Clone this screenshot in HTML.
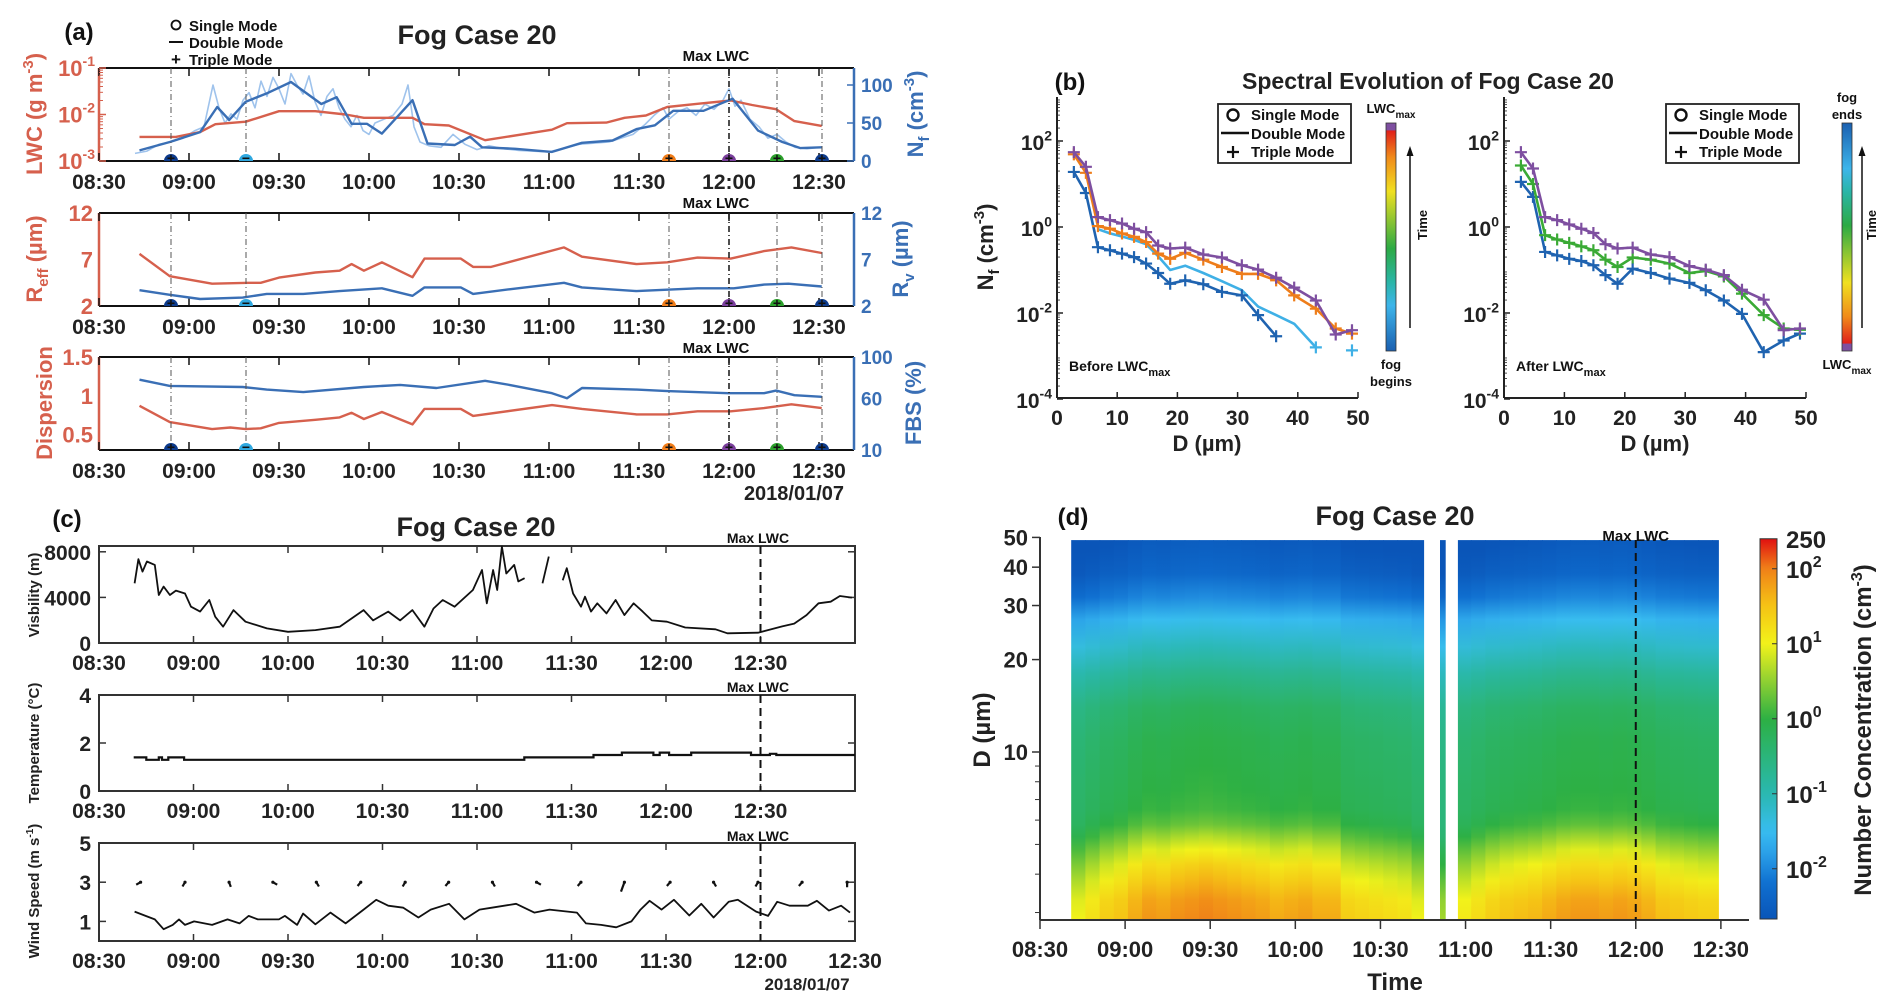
<!DOCTYPE html>
<html><head><meta charset="utf-8">
<style>
html,body{margin:0;padding:0;background:#fff;}
svg{display:block;}
text{font-family:"Liberation Sans",Arial,sans-serif;font-weight:bold;}
</style></head>
<body>
<svg id="fig" width="1892" height="1007" viewBox="0 0 1892 1007" xmlns="http://www.w3.org/2000/svg">
<defs id="defs"></defs>
<rect x="0" y="0" width="1892" height="1007" fill="#fff"/>

<!-- Panel (a) static text -->
<text x="79" y="40" font-size="24" text-anchor="middle" fill="#111">(a)</text>
<text x="477" y="44" font-size="27" text-anchor="middle" fill="#222">Fog Case 20</text>
<g>
<circle cx="176" cy="25" r="4.5" fill="none" stroke="#111" stroke-width="1.8"/>
<text x="189" y="31" font-size="15" fill="#111">Single Mode</text>
<line x1="169" y1="42" x2="183" y2="42" stroke="#111" stroke-width="2"/>
<text x="189" y="48" font-size="15" fill="#111">Double Mode</text>
<text x="176" y="65" font-size="17" text-anchor="middle" fill="#111">+</text>
<text x="189" y="65" font-size="15" fill="#111">Triple Mode</text>
</g>
<text x="716" y="61" font-size="15" text-anchor="middle" fill="#111">Max LWC</text>
<text x="716" y="208" font-size="15" text-anchor="middle" fill="#111">Max LWC</text>
<text x="716" y="353" font-size="15" text-anchor="middle" fill="#111">Max LWC</text>
<text transform="translate(42,114) rotate(-90)" font-size="22" text-anchor="middle" fill="#d6604d">LWC (g m<tspan dy="-9" font-size="15">-3</tspan><tspan dy="9">)</tspan></text>
<text transform="translate(923,114) rotate(-90)" font-size="22" text-anchor="middle" fill="#3a6fb5">N<tspan dy="6" font-size="15">f</tspan><tspan dy="-6"> (cm</tspan><tspan dy="-9" font-size="15">-3</tspan><tspan dy="9">)</tspan></text>
<text transform="translate(42,259) rotate(-90)" font-size="22" text-anchor="middle" fill="#d6604d">R<tspan dy="6" font-size="15">eff</tspan><tspan dy="-6"> (µm)</tspan></text>
<text transform="translate(908,259) rotate(-90)" font-size="22" text-anchor="middle" fill="#3a6fb5">R<tspan dy="6" font-size="15">v</tspan><tspan dy="-6"> (µm)</tspan></text>
<text transform="translate(52,403) rotate(-90)" font-size="22" text-anchor="middle" fill="#d6604d">Dispersion</text>
<text transform="translate(921,403) rotate(-90)" font-size="22" text-anchor="middle" fill="#3a6fb5">FBS (%)</text>
<text x="794" y="500" font-size="20" text-anchor="middle" fill="#222">2018/01/07</text>

<!-- Panel (b) static text -->
<text x="1070" y="90" font-size="24" text-anchor="middle" fill="#111">(b)</text>
<text x="1428" y="89" font-size="23" text-anchor="middle" fill="#222">Spectral Evolution of Fog Case 20</text>
<text transform="translate(993,247) rotate(-90)" font-size="22" text-anchor="middle" fill="#222">N<tspan dy="6" font-size="15">f</tspan><tspan dy="-6"> (cm</tspan><tspan dy="-9" font-size="15">-3</tspan><tspan dy="9">)</tspan></text>
<text x="1207" y="451" font-size="22" text-anchor="middle" fill="#222">D (µm)</text>
<text x="1655" y="451" font-size="22" text-anchor="middle" fill="#222">D (µm)</text>
<text x="1069" y="371" font-size="14" fill="#111">Before LWC<tspan dy="5" font-size="11">max</tspan></text>
<text x="1516" y="371" font-size="14" fill="#111">After LWC<tspan dy="5" font-size="11">max</tspan></text>
<text x="1391" y="113" font-size="13" text-anchor="middle" fill="#111">LWC<tspan dy="5" font-size="10">max</tspan></text>
<text x="1391" y="369" font-size="13" text-anchor="middle" fill="#111">fog</text>
<text x="1391" y="386" font-size="13" text-anchor="middle" fill="#111">begins</text>
<text x="1847" y="102" font-size="13" text-anchor="middle" fill="#111">fog</text>
<text x="1847" y="119" font-size="13" text-anchor="middle" fill="#111">ends</text>
<text x="1847" y="369" font-size="13" text-anchor="middle" fill="#111">LWC<tspan dy="5" font-size="10">max</tspan></text>
<text transform="translate(1427,225) rotate(-90)" font-size="13" text-anchor="middle" fill="#111">Time</text>
<text transform="translate(1876,225) rotate(-90)" font-size="13" text-anchor="middle" fill="#111">Time</text>

<!-- Panel (c) static text -->
<text x="67" y="527" font-size="24" text-anchor="middle" fill="#111">(c)</text>
<text x="476" y="536" font-size="27" text-anchor="middle" fill="#222">Fog Case 20</text>
<text x="758" y="543" font-size="14" text-anchor="middle" fill="#111">Max LWC</text>
<text x="758" y="692" font-size="14" text-anchor="middle" fill="#111">Max LWC</text>
<text x="758" y="841" font-size="14" text-anchor="middle" fill="#111">Max LWC</text>
<text transform="translate(39,595) rotate(-90)" font-size="15" text-anchor="middle" fill="#222">Visbility (m)</text>
<text transform="translate(39,743) rotate(-90)" font-size="15" text-anchor="middle" fill="#222">Temperature (°C)</text>
<text transform="translate(39,891) rotate(-90)" font-size="15" text-anchor="middle" fill="#222">Wind Speed (m s<tspan dy="-6" font-size="10">-1</tspan><tspan dy="6">)</tspan></text>
<text x="807" y="990" font-size="17" text-anchor="middle" fill="#222">2018/01/07</text>

<!-- Panel (d) static text -->
<text x="1073" y="525" font-size="24" text-anchor="middle" fill="#111">(d)</text>
<text x="1395" y="525" font-size="27" text-anchor="middle" fill="#222">Fog Case 20</text>
<text x="1395" y="990" font-size="24" text-anchor="middle" fill="#222">Time</text>
<text transform="translate(990,730) rotate(-90)" font-size="24" text-anchor="middle" fill="#222">D (µm)</text>
<text transform="translate(1871,730) rotate(-90)" font-size="24" text-anchor="middle" fill="#222">Number Concentration (cm<tspan dy="-9" font-size="16">-3</tspan><tspan dy="9">)</tspan></text>
</svg>

<script>
// ---------------- DATA ----------------
// Panel (a)
const aTickLabels=['08:30','09:00','09:30','10:00','10:30','11:00','11:30','12:00','12:30'];
const lwcT=[13.5,25.6,33.7,38.8,48.9,60,72.1,82.2,88.3,104.5,108.5,116.6,128.7,151,156,169.1,175.2,182.3,189.4,199.5,210.6,217.7,225.7,231.8,240.9];
const lwcV=[0.0033,0.0033,0.0042,0.0062,0.007,0.0118,0.0118,0.010,0.0085,0.0085,0.0062,0.0058,0.0028,0.0047,0.0065,0.0067,0.0085,0.0095,0.0145,0.017,0.02,0.016,0.013,0.0072,0.0057];
const nfT=[13.5,23.6,33.7,39.4,43.4,48.9,55.9,64,74.1,79.2,84.2,89.3,94.3,104.5,109.5,118.6,123.7,127.7,138.8,151,161,171.2,179.2,185.3,191.4,201.5,211.2,219.7,227.8,233.8,240.9];
const nfV=[14,25,38,71,54,78,89,104,75,84,49,49,36,80,23,21,32,18,16,12,24,27,42,47,66,66,82,40,25,17,18];
const nfRawT=[12,16,20,24,28,32,35,38,40,42,44,46,48,50,52,54,56,58,60,62,64,66,68,70,72,74,76,78,80,82,84,86,88,90,92,95,98,101,103,105,107,110,114,118,122,126,130,135,140,150,160,170,178,182,185,188,190,193,196,199,202,205,208,210,212,214,217,220,223,226,229,232,236,240];
const nfRawV=[10,13,22,25,30,40,45,100,70,50,62,55,80,90,70,105,85,110,95,75,115,100,88,112,78,60,85,95,70,55,45,60,40,35,50,55,60,75,100,45,25,20,18,35,22,15,20,16,14,12,22,25,35,48,60,70,55,65,70,60,75,68,80,95,72,80,55,45,30,35,25,18,16,18];
const reffT=[13.5,23.6,37.7,49.9,53.9,60,72.1,80.2,84.2,88.3,94.3,104.5,108.5,120.6,124.7,130.7,155,161,179.2,189.4,199.5,210.6,221.7,230.8,240.9];
const reffV=[7.6,5.2,4.4,4.5,4.5,5.05,5.6,5.8,6.5,5.8,6.7,5.1,7.1,7.1,6.2,6.2,8.3,7.3,6.5,6.7,7.2,7.1,7.9,8.3,7.7];
const rvT=[13.5,23.6,33.7,47.9,55.9,68.1,80.2,94.3,104.5,108.5,120.6,124.7,136.8,155,161,179.2,199.5,211.6,221.7,229.8,240.9];
const rvV=[3.7,3.2,2.75,2.9,3.3,3.3,3.6,3.9,3.1,4.0,4.0,3.3,3.8,4.5,4.0,3.6,3.9,3.9,4.3,4.4,4.1];
const dispT=[13.5,23.6,37.7,43.8,48.9,53.9,60,72.1,80.2,84.2,88.3,94.3,104.5,108.5,120.6,124.7,151,161,179.2,189.4,199.5,210.6,221.7,230.8,240.9];
const dispV=[0.87,0.66,0.57,0.59,0.57,0.58,0.65,0.69,0.72,0.78,0.70,0.79,0.63,0.83,0.83,0.74,0.88,0.83,0.76,0.76,0.80,0.80,0.84,0.89,0.84];
const fbsT=[13.5,23.6,47.9,55.9,68.1,88.3,100.4,112.5,128.7,136.8,151,156,161,179.2,189.4,209.6,221.7,225.7,231.8,240.9];
const fbsV=[78,72,71,68.5,66,71,73,70,77,73,65,60,70,68.5,67,65,65,67.5,63,61.5];
const eventT=[24,49,190,210,226,241];
const eventMode=['+','-','+','+','+','+'];
const maxLwcT=210;

// Panel (b)
const bD=[2.8,4.8,6.8,8.8,10.8,12.8,14.8,16.8,18.8,21.3,24.3,27.4,30.7,33.4,36.4,39.4,43,46.3,49];
const bYTicks=[2,0,-2,-4];
const bXTicks=[0,10,20,30,40,50];
const leftPurpleLog=[1.74,1.40,0.23,0.16,0.08,-0.04,-0.12,-0.43,-0.5,-0.48,-0.64,-0.71,-0.89,-0.99,-1.18,-1.41,-1.71,-2.5,-2.4];
const leftOrangeLog=[1.69,1.26,0.02,-0.04,-0.15,-0.23,-0.35,-0.62,-0.74,-0.60,-0.76,-0.93,-1.09,-1.09,-1.24,-1.59,-1.9,-2.36,-2.48];
const leftLightBlueLog=[null,null,-0.05,-0.15,-0.22,-0.3,-0.4,-0.68,-1.0,-0.9,-1.07,-1.26,-1.47,-1.85,-2.05,-2.25,-2.8,null,-2.87];
const leftDarkBlueLog=[1.28,0.79,-0.47,-0.54,-0.62,-0.70,-0.85,-1.07,-1.32,-1.24,-1.33,-1.51,-1.59,-2.05,-2.54,null,null,null,null];
const rightPurpleLog=[1.74,1.36,0.23,0.16,0.06,-0.04,-0.14,-0.4,-0.5,-0.48,-0.64,-0.7,-0.91,-0.99,-1.12,-1.46,-1.69,-2.4,-2.36];
const rightGreenLog=[1.43,1.0,-0.19,-0.29,-0.37,-0.45,-0.54,-0.76,-0.93,-0.71,-0.76,-0.85,-1.07,-1.02,-1.15,-1.55,-2.05,-2.36,-2.39];
const rightDarkBlueLog=[1.05,0.70,-0.58,-0.66,-0.74,-0.79,-0.89,-1.12,-1.32,-0.97,-1.07,-1.2,-1.3,-1.47,-1.71,-2.02,-2.91,-2.64,-2.48];

// Panel (c)
const cLabelsTop=['08:30','09:00','10:00','10:30','11:00','11:30','12:00','12:30'];
const cLabelsBottom=['08:30','09:00','09:30','10:00','10:30','11:00','11:30','12:00','12:30'];
const visT=[11.3,12.5,13.8,15.2,17.7,19,20.5,22.5,24.4,27.3,29.2,32.1,35,36.9,39.4,42.7,46.5,53.3,60,68.7,76.4,84,87,91.8,95.6,99.5,103.3,106.2,109.1,112.9,118.7,121.6,123.1,125.1,126.4,127.9,129.3,131.8,133.1,135.1,138,140.8,142.8,145,147.2,148.5,150.5,153,154.3,156.2,158.2,161.1,164,166.8,169.7,172.6,175.5,180.3,186.1,195.7,199.5,209.2,216.9,220.7,224.6,228.4,232.3,235.2,239];
const visV=[5240,7350,6260,7150,6850,4210,4950,4210,4600,4340,3180,2750,3770,2310,1430,2890,1870,1280,985,1130,1430,2890,1980,2750,1980,2890,1430,3030,3770,3180,4650,6400,3480,6400,4650,8460,6100,6850,5400,5680,null,5240,7580,null,5500,6560,4340,3180,4060,2750,3480,2600,3770,2450,3480,2750,1980,1870,1360,1200,850,900,1460,1700,2450,3480,3620,4120,3980];
const tempT=[11,15,19,20,22,25,27,135,157,166,176,178,181,188,207,210,213,215,240];
const tempV=[1.4,1.3,1.4,1.3,1.4,1.4,1.3,1.4,1.5,1.6,1.5,1.6,1.5,1.6,1.5,1.5,1.55,1.5,1.5];
const windT=[11.3,14.8,17.7,20.5,23.4,25.4,27.3,30.2,35.9,40.8,44.6,47.5,50.4,57.1,59,62.9,64.8,68.7,73.5,78.3,84,88,91.8,96.6,101.4,105.3,111.1,116,120.8,124.7,132.4,138.2,143,151.7,154.6,159.4,164.2,169,171.9,174.8,178.6,182.5,187.4,191.2,195.1,199.9,202.8,208.6,212.4,215.3,219.2,225,227.9,231.7,235.6,238.4];
const windV=[1.5,1.28,1.1,0.6,0.82,1.1,0.82,1.0,0.82,1.1,0.9,1.28,1.1,1.1,1.28,0.82,1.4,0.85,1.45,0.9,1.6,2.1,1.8,1.7,1.2,1.6,1.9,1.1,1.6,1.7,1.9,1.45,1.6,1.45,0.9,0.82,0.7,1.0,1.6,2.05,1.6,2.1,1.3,1.9,1.2,2.0,2.1,1.5,1.28,2.0,1.8,1.8,2.05,1.55,1.8,1.45];
const windDirT=[13.2,27.3,41.3,55.2,69.0,83.1,97.2,111.0,124.9,138.9,153.0,166.8,181.3,195.1,209.2,223.2,237.5];
const windDirDeg=[300,330,20,60,30,320,330,320,30,60,320,340,320,30,330,320,0];

// Panel (d)
const dTickLabels=['08:30','09:00','09:30','10:00','10:30','11:00','11:30','12:00','12:30'];
const dYTicks=[10,20,30,40,50];
const hmD=[2.84,3.3,3.8,4.3,4.8,5.3,5.8,6.5,7.5,9,11,14,18,22,27,32,38,45,49];
const hmBase=[1.5,1.4,1.15,0.9,0.6,0.3,0.05,-0.1,-0.15,-0.2,-0.25,-0.4,-0.8,-1.2,-1.6,-2.1,-2.45,-2.6,-2.65];
const hmWeight=[1,1,1,1,0.9,0.8,0.6,0.45,0.4,0.4,0.4,0.4,0.35,0.3,0.3,0.3,0.3,0.3,0.3];
const hmEdges=[11,16,21,26,31,36,41,46,51,56,61,66,71,76,81,86,91,96,101,106,111,116,121,126,131,135.4,141,143,147.3,152,157,162,167,172,177,182,187,192,197,202,207,212,217,222,227,232,237,239.3];
const hmAnom=[-0.5,-0.3,-0.1,0,0.2,0.35,0.3,0.4,0.45,0.5,0.45,0.4,0.35,0.3,0.2,0.25,0.3,0.2,0.2,-0.1,-0.15,-0.2,-0.25,-0.3,-0.5,null,-0.9,null,-0.4,-0.25,-0.1,0,0.05,0.1,0.2,0.3,0.35,0.35,0.3,0.35,0.3,0.2,0.05,0,-0.05,-0.1,-0.1];
const cbLabels=['10^-2','10^-1','10^0','10^1','10^2'];
const cbLabelLogs=[-2,-1,0,1,2];

// ---------------- HELPERS ----------------
const NS='http://www.w3.org/2000/svg';
const svg=document.getElementById('fig');
const defs=document.getElementById('defs');
function mk(tag,attrs,parent){const e=document.createElementNS(NS,tag);for(const k in attrs)e.setAttribute(k,attrs[k]);(parent||svg).appendChild(e);return e;}
function txt(str,x,y,size,anchor,fill,parent){const e=mk('text',{x:x,y:y,'font-size':size,'text-anchor':anchor,fill:fill},parent);e.textContent=str;return e;}
function pow10(exp,x,y,size,anchor,fill,parent){const e=mk('text',{x:x,y:y,'font-size':size,'text-anchor':anchor,fill:fill},parent);const a=mk('tspan',{},e);a.textContent='10';const b=mk('tspan',{dy:-size*0.45,'font-size':Math.round(size*0.65)},e);b.textContent=exp;return e;}
function pathD(ts,vs,fx,fy){let d='',pen=false;for(let i=0;i<ts.length;i++){if(vs[i]==null||ts[i]==null){pen=false;continue;}d+=(pen?'L':'M')+fx(ts[i]).toFixed(1)+','+fy(vs[i]).toFixed(1);pen=true;}return d;}
function line(x1,y1,x2,y2,stroke,w,parent){return mk('line',{x1:x1,y1:y1,x2:x2,y2:y2,stroke:stroke,'stroke-width':w},parent);}

const RED='#d6604d', RED_L='#f3aaa0', BLUE='#3a6fb5', BLUE_L='#9fc3ec';
const eventColor=['#0d3b8c','#2fa8e0','#f07d1a','#7a3f9c','#2ca02c','#0d3b8c'];

// ---------------- PANEL (a) ----------------
const xA=t=>99+t*3;
const yLWC=v=>161-(Math.log10(v)+3)*46.5;
const yNf=v=>161-v*0.76;
const yR1=v=>306-(v-2)*9.3;
const yDisp=v=>450-(v-0.3)*77.5;
const yFBS=v=>450-(v-10)*93/90;

function aFrame(top,bot,name){
  const g=mk('g',{});
  
  
  const t1=line(99,top,854,top,'#111',2,g);
  
  
  const b1=line(99,bot,854,bot,'#111',2,g);
  
  
  const l1=line(99,top,99,bot,RED,2.5,g);
  
  
  const r1=line(854,top,854,bot,BLUE,2.5,g);
  
  
  for(let i=0;i<aTickLabels.length;i++){
    const x=xA(i*30);
    const tk=line(x,top,x,top+8,'#111',1.5,g);
    
    
    const tb=line(x,bot,x,bot-8,'#111',1.5,g);
    
    
    const lb=txt(aTickLabels[i],x,bot+28,21,'middle','#222',g);
    
    
  }
  return g;
}
function eventLines(top,bot,name){
  for(let i=0;i<eventT.length;i++){
    const x=xA(eventT[i]);
    const isMax=eventT[i]===maxLwcT;
    const ln=mk('line',{x1:x,y1:top,x2:x,y2:bot,stroke:isMax?'#222':'#555','stroke-width':isMax?1.6:1,'stroke-dasharray':'6,3,1,3'});
    
    
    const m=mk('path',{d:`M${x-7},${bot} A7,7 0 0 1 ${x+7},${bot} Z`,fill:eventColor[i]});
    
    
    const s=txt(eventMode[i]==='+'?'+':'−',x,bot+2,14,'middle','#111');
    
    
  }
}
function series(ts,vs,fx,fy,color,w,name){
  const p=mk('path',{d:pathD(ts,vs,fx,fy),fill:'none',stroke:color,'stroke-width':w,'stroke-linejoin':'round'});
  
  
  return p;
}

// plot a1
aFrame(68,161,'a1');
[-3,-2,-1].forEach(e=>{
  const y=yLWC(Math.pow(10,e));
  const t=pow10(String(e),95,y+8,22,'end',RED);
  
  
  const tk=line(99,y,106,y,RED,1.5);
  
  
  if(e<-1){for(let k=2;k<10;k++){const ym=yLWC(k*Math.pow(10,e));const mt=line(99,ym,103,ym,RED,1);
    
    }}
});
[0,50,100].forEach(v=>{
  const y=yNf(v);
  const t=txt(String(v),861,y+7,19,'start',BLUE);
  
  
  const tk=line(854,y,847,y,BLUE,1.5);
  
  
});
series(nfRawT,nfRawV,xA,yNf,BLUE_L,1.6,'nf-raw-line');
series(lwcT,lwcV,xA,yLWC,RED,2.4,'lwc-line');
series(nfT,nfV,xA,yNf,BLUE,2.4,'nf-line');
eventLines(68,161,'a1');

// plot a2
aFrame(213,306,'a2');
[2,7,12].forEach(v=>{
  const y=yR1(v);
  const t=txt(String(v),93,y+8,22,'end',RED);
  
  
  const t2=txt(String(v),861,y+7,19,'start',BLUE);
  
  
});
series(reffT,reffV,xA,yR1,RED,2.4,'reff-line');
series(rvT,rvV,xA,yR1,BLUE,2.4,'rv-line');
eventLines(213,306,'a2');

// plot a3
aFrame(357,450,'a3');
[0.5,1,1.5].forEach(v=>{
  const y=yDisp(v);
  const t=txt(String(v),93,y+8,22,'end',RED);
  
  
});
[10,60,100].forEach(v=>{
  const y=yFBS(v);
  const t=txt(String(v),861,y+7,19,'start',BLUE);
  
  
});
series(dispT,dispV,xA,yDisp,RED,2.4,'dispersion-line');
series(fbsT,fbsV,xA,yFBS,BLUE,2.4,'fbs-line');
eventLines(357,450,'a3');

// ---------------- PANEL (b) ----------------
const yB=L=>227-L*43;
const xBL=D=>1057+D*6.02;
const xBR=D=>1504+D*6.04;
function bAxes(fx,name){
  const x0=fx(0), x1=fx(50);
  const ax=line(x0,97,x0,398,'#222',2);
  
  
  const bx=line(x0,398,x1,398,'#222',2);
  
  
  bXTicks.forEach(D=>{
    const x=fx(D);
    const tk=line(x,398,x,392,'#222',1.5);
    
    
    const t=txt(String(D),x,425,21,'middle','#222');
    
    
  });
  bYTicks.forEach(L=>{
    const y=yB(L);
    const t=pow10(String(L),x0-5,y+9,21,'end','#222');
    
    
    const tk=line(x0,y,x0+6,y,'#222',1.5);
    
    
  });
  for(let L=-4;L<3;L++){for(let k=2;k<10;k++){const y=yB(L+Math.log10(k));const mt=line(x0,y,x0+3,y,'#222',0.8);
    
    }}
}
function spectrum(logs,fx,color,name,markerIdx){
  const p=mk('path',{d:pathD(bD,logs,fx,yB),fill:'none',stroke:color,'stroke-width':2.6,'stroke-linejoin':'round'});
  
  
  for(let i=0;i<bD.length;i++){
    if(logs[i]==null) continue;
    if(markerIdx && markerIdx.indexOf(i)<0) continue;
    const x=fx(bD[i]), y=yB(logs[i]);
    const m=mk('path',{d:`M${x-6},${y}H${x+6}M${x},${y-6}V${y+6}`,stroke:color,'stroke-width':2.2});
    
    
  }
}
function bLegend(x,name){
  const g=mk('g',{});
  
  
  const r=mk('rect',{x:x,y:104,width:133,height:59,fill:'#fff',stroke:'#222','stroke-width':1.8},g);
  
  
  const c=mk('circle',{cx:x+15,cy:115,r:5.5,fill:'none',stroke:'#111','stroke-width':2.4},g);
  
  
  const t1=txt('Single Mode',x+33,120,15,'start','#111',g);
  
  
  const l=line(x+3,133,x+31,133,'#111',2.5,g);
  
  
  const t2=txt('Double Mode',x+33,139,15,'start','#111',g);
  
  
  const p=mk('path',{d:`M${x+9},152H${x+21}M${x+15},146V158`,stroke:'#111','stroke-width':2.2},g);
  
  
  const t3=txt('Triple Mode',x+33,157,15,'start','#111',g);
  
  
}
function timeBar(x,stops,id,name){
  const gr=mk('linearGradient',{id:id,x1:0,y1:0,x2:0,y2:1},defs);
  stops.forEach(s=>mk('stop',{offset:s[0],'stop-color':s[1]},gr));
  const r=mk('rect',{x:x,y:123,width:10,height:228,fill:`url(#${id})`,stroke:'#333','stroke-width':0.8});
  
  
}
function arrow(x,name){
  const a=line(x,328,x,150,'#111',1.5);
  
  
  const h=mk('path',{d:`M${x-3.5},${156}L${x},${146}L${x+3.5},${156}Z`,fill:'#111'});
  
  
}
bAxes(xBL,'b-left');
bAxes(xBR,'b-right');
spectrum(leftLightBlueLog,xBL,'#3fb0e6','b-left-lightblue',[16,18]);
spectrum(leftDarkBlueLog,xBL,'#1f63b0','b-left-darkblue');
spectrum(leftOrangeLog,xBL,'#ee7d1a','b-left-orange');
spectrum(leftPurpleLog,xBL,'#7e4fa0','b-left-purple');
spectrum(rightDarkBlueLog,xBR,'#1f63b0','b-right-darkblue');
spectrum(rightGreenLog,xBR,'#3aaa35','b-right-green');
spectrum(rightPurpleLog,xBR,'#7e4fa0','b-right-purple');
bLegend(1218,'b-left-legend');
bLegend(1666,'b-right-legend');
timeBar(1386,[[0,'#7e4fa0'],[0.03,'#7e4fa0'],[0.035,'#e0201a'],[0.15,'#f08a1a'],[0.3,'#f0e020'],[0.55,'#2caa44'],[0.7,'#2ab5a8'],[0.8,'#3db5ea'],[1,'#1a5fb0']],'gradLeft','b-left-time-colorbar');
timeBar(1842,[[0,'#1a5fb0'],[0.2,'#3db5ea'],[0.3,'#2ab5a8'],[0.45,'#2caa44'],[0.7,'#f0e020'],[0.85,'#f08a1a'],[0.965,'#e0201a'],[0.97,'#7e4fa0'],[1,'#7e4fa0']],'gradRight','b-right-time-colorbar');
arrow(1410,'b-left-time-arrow');
arrow(1862,'b-right-time-arrow');

// ---------------- PANEL (c) ----------------
const xC=t=>99+t*3.15;
const yVis=v=>643-v*0.0114;
const yTemp=v=>791-v*24;
const yWind=v=>941-v*19.6;
function cFrame(top,bot,labels,yticks,fy,name){
  const r=mk('rect',{x:99,y:top,width:756,height:bot-top,fill:'none',stroke:'#333','stroke-width':2});
  
  
  for(let i=0;i<=8;i++){
    const x=xC(i*30);
    const tk=line(x,bot,x,bot-7,'#333',1.5);
    
    
    const tt=line(x,top,x,top+7,'#333',1.5);
    
    
    if(i<labels.length){
      const lb=txt(labels[i],x,bot+27,21,'middle','#222');
      
      
    }
  }
  yticks.forEach(v=>{
    const y=fy(v);
    const t=txt(String(v),91,y+8,21,'end','#222');
    
    
    const tk=line(99,y,106,y,'#333',1.5);
    
    
    const tr=line(855,y,848,y,'#333',1.5);
    
    
  });
  const d=mk('line',{x1:xC(210),y1:top,x2:xC(210),y2:bot,stroke:'#111','stroke-width':2,'stroke-dasharray':'8,5'});
  
  
}
cFrame(546,643,cLabelsTop,[0,4000,8000],yVis,'c1');
cFrame(695,791,cLabelsTop,[0,2,4],yTemp,'c2');
cFrame(843,941,cLabelsBottom,[1,3,5],yWind,'c3');
series(visT,visV,xC,yVis,'#111',1.8,'visibility-line');
(function(){
  let d='';
  for(let i=0;i<tempT.length;i++){
    d+=(i?'L':'M')+xC(tempT[i]).toFixed(1)+','+yTemp(tempV[i]).toFixed(1);
    if(i<tempT.length-1) d+='L'+xC(tempT[i+1]).toFixed(1)+','+yTemp(tempV[i]).toFixed(1);
  }
  const p=mk('path',{d:d,fill:'none',stroke:'#111','stroke-width':2.2});
  
  
})();
series(windT,windV,xC,yWind,'#111',1.8,'wind-speed-line');
for(let i=0;i<windDirT.length;i++){
  const x=xC(windDirT[i]), y=yWind(3);
  const a=windDirDeg[i]*Math.PI/180;
  const len=(i===11)?10:5;
  const p=mk('path',{d:`M${x},${y}L${(x+Math.sin(a)*len).toFixed(1)},${(y+Math.cos(a)*len).toFixed(1)}`,stroke:'#111','stroke-width':2.2});
  
  
  const c=mk('circle',{cx:x,cy:y,r:1.6,fill:'#111'});
  
  
}

// ---------------- PANEL (d) ----------------
const xD=t=>1040+t*2.837;
const yDD=D=>752-(Math.log10(D)-1)*307;
const cmapStops=[[-2.67,[10,85,184]],[-2.2,[15,111,208]],[-1.8,[42,159,232]],[-1.5,[56,189,240]],[-1.0,[42,184,176]],[-0.5,[43,181,122]],[0,[45,176,67]],[0.5,[143,208,50]],[1.0,[242,242,26]],[1.5,[245,196,21]],[2.0,[240,130,24]],[2.4,[224,16,16]]];
function cmap(L){
  if(L<=cmapStops[0][0]) return `rgb(${cmapStops[0][1].join(',')})`;
  for(let i=1;i<cmapStops.length;i++){
    if(L<=cmapStops[i][0]){
      const a=cmapStops[i-1], b=cmapStops[i], f=(L-a[0])/(b[0]-a[0]);
      return `rgb(${a[1].map((c,k)=>Math.round(c+(b[1][k]-c)*f)).join(',')})`;
    }
  }
  return `rgb(${cmapStops[cmapStops.length-1][1].join(',')})`;
}
const hmTop=yDD(hmD[hmD.length-1]), hmBot=yDD(hmD[0]);
for(let i=0;i<hmAnom.length;i++){
  if(hmAnom[i]==null) continue;
  const id='hmcol'+i;
  const gr=mk('linearGradient',{id:id,x1:0,y1:hmTop,x2:0,y2:hmBot,gradientUnits:'userSpaceOnUse'},defs);
  for(let r=hmD.length-1;r>=0;r--){
    const off=(yDD(hmD[r])-hmTop)/(hmBot-hmTop);
    mk('stop',{offset:off.toFixed(4),'stop-color':cmap(hmBase[r]+hmAnom[i]*hmWeight[r])},gr);
  }
  const x0=xD(hmEdges[i]), x1=xD(hmEdges[i+1]);
  const next=hmAnom[i+1];
  const rc=mk('rect',{x:x0.toFixed(1),y:hmTop.toFixed(1),width:(x1-x0+(next!=null&&i<hmAnom.length-1?0.6:0)).toFixed(1),height:(hmBot-hmTop).toFixed(1),fill:`url(#${id})`});
  
  
}
(function(){
  const ax=line(1040,537,1040,920,'#333',2);
  
  
  const bx=line(1040,920,1749,920,'#333',2);
  
  
  for(let i=0;i<dTickLabels.length;i++){
    const x=xD(i*30);
    const tk=line(x,920,x,929,'#333',1.5);
    
    
    const t=txt(dTickLabels[i],x,957,22,'middle','#222');
    
    
  }
  dYTicks.forEach(D=>{
    const y=yDD(D);
    const tk=line(1040,y,1032,y,'#333',1.5);
    
    
    const t=txt(String(D),1028,y+8,22,'end','#222');
    
    
  });
  for(let D=3;D<10;D++){
    const y=yDD(D);
    const tk=line(1040,y,1035,y,'#333',1);
    
    
  }
  const ml=mk('line',{x1:xD(210),y1:540,x2:xD(210),y2:920,stroke:'#111','stroke-width':2,'stroke-dasharray':'8,5'});
  
  
  const mt=txt('Max LWC',xD(210),541,15,'middle','#111');
  
  
  // colorbar
  const cbY=L=>919-(L+2.67)*75;
  const gr=mk('linearGradient',{id:'cbgrad',x1:0,y1:0,x2:0,y2:1},defs);
  for(let k=0;k<=40;k++){const L=2.4-(2.4+2.67)*k/40;mk('stop',{offset:(k/40).toFixed(3),'stop-color':cmap(L)},gr);}
  const cb=mk('rect',{x:1760,y:cbY(2.4),width:17,height:cbY(-2.67)-cbY(2.4),fill:'url(#cbgrad)',stroke:'#333','stroke-width':1});
  
  
  for(let i=0;i<cbLabelLogs.length;i++){
    const y=cbY(cbLabelLogs[i]);
    const t=pow10(cbLabels[i].split('^')[1],1786,y+9,24,'start','#222');
    
    
    const tk=line(1777,y,1772,y,'#333',1);
    
    
  }
  const t250=txt('250',1786,cbY(Math.log10(250))+9,24,'start','#222');
  
  
})();
</script>
</body></html>
